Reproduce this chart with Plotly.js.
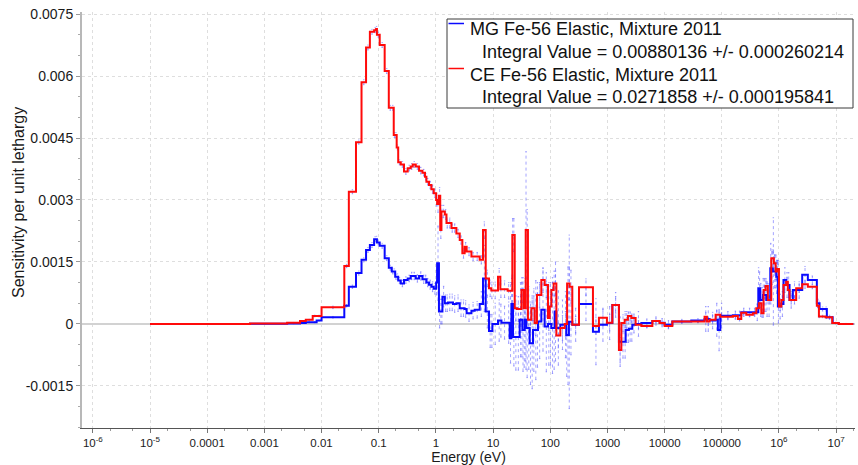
<!DOCTYPE html>
<html>
<head>
<meta charset="utf-8">
<script src="https://cdn.plot.ly/plotly-3.0.1.min.js"></script>
<style>
  html, body { margin: 0; padding: 0; background: #ffffff; }
  #chart { width: 858px; height: 465px; }
</style>
</head>
<body>
<div id="chart"></div>
<script>
// Energy group boundaries (eV), low to high; one more entry than each value list.
const groupEdges = [
  1e-5, 5.6e-4, 2.5e-3, 4.2e-3, 5.3e-3, 7.0e-3, 8.2e-3, 0.01, 0.025, 0.03,
  0.04, 0.05, 0.06, 0.07, 0.083, 0.09, 0.093, 0.104, 0.127, 0.15,
  0.169, 0.183, 0.194, 0.206, 0.219, 0.243, 0.277, 0.321, 0.362, 0.393,
  0.444, 0.507, 0.581, 0.644, 0.682, 0.757, 0.834, 0.916, 1.01, 1.05,
  1.13, 1.19, 1.25, 1.30, 1.43, 1.53, 1.63, 1.87, 1.99, 2.28,
  2.61, 2.90, 3.18, 3.45, 4.18, 4.77, 5.83, 6.66, 7.43, 8.48,
  9.33, 9.72, 12.2, 13.4, 14.0, 18.0, 19.5, 20.9, 21.7, 22.3,
  23.9, 26.2, 29.2, 31.3, 32.5, 34.3, 35.7, 37.2, 38.2, 40.7,
  43.6, 46.7, 49.9, 53.4, 58.5, 61.0, 69.8, 79.8, 91.2, 97.7,
  104.5, 114.6, 119.4, 127.9, 150, 178.6, 191, 197, 212, 218,
  243, 318, 558, 710, 980, 1219, 1589, 1750, 2000, 2080,
  2280, 2377, 2618, 2723, 3112, 3917, 6100, 8180, 10000, 13650,
  29300, 50000, 55000, 61200, 78000, 85500, 94200, 104500, 156300, 191000,
  219000, 268000, 350000, 401000, 435000, 446000, 471000, 491000, 524000, 538000,
  583000, 600000, 640000, 705000, 733000, 782000, 815000, 873000, 897000, 927000,
  957000, 1.0e6, 1.1e6, 1.2e6, 1.34e6, 1.43e6, 1.53e6, 1.75e6, 2.0e6, 2.55e6,
  3.2e6, 4.6e6, 5.0e6, 5.13e6, 6.53e6, 6.88e6, 8.55e6, 8.7e6, 1.11e7, 2.0e7
];

// Multigroup (MG) sensitivity per unit lethargy, one value per group
const mgValues = [
  0, 0.000005, 0.00001, 0.00002, 0.00004, 0.00004, 0.00008, 0.00016, 0.00044, 0.0009,
  0.00123, 0.00155, 0.00179, 0.00191, 0.00205, 0.00205, 0.00197, 0.00189, 0.00159, 0.00136,
  0.00127, 0.00127, 0.00114, 0.00114, 0.00105, 0.00098, 0.00106, 0.0011, 0.00116, 0.00116,
  0.0011, 0.00116, 0.00108, 0.00108, 0.001, 0.00095, 0.0009, 0.00085, 0.0010, 0.00147,
  0.0003, 0.0003, 0.0003, 0.00066, 0.0005, 0.0005, 0.00052, 0.00052, 0.00048, 0.0005,
  0.00038, 0.00038, 0.00036, 0.00026, 0.00032, 0.00034, 0.00048, 0.0011, 0.0003, -0.00017,
  -0.00017, 0, 0.00008, 0.00008, 0.00003, 0.00003, -0.00035, 0.00048, 0.00048, -0.00032,
  -0.00032, -0.00032, 0.0001, 0.0001, -0.00015, -0.00015, 0.0001, 0.0001, -0.0001, -0.0001,
  -0.00047, -0.00047, -0.00015, -0.00015, -0.00015, 0.00006, 0.00034, -0.00006, 0, 0,
  -0.0001, -0.0001, 0.0003, -0.0001, -0.00002, -0.00002, -0.00027, -0.00027, 0.00005, 0.00005,
  -0.00002, 0.00048, -0.00019, -0.00002, 0.00002, 0.00046, -0.00043, -0.00043, -0.00043, -0.00015,
  -0.00015, -0.00012, -0.00012, -0.00002, 0, 0.00002, 0.00007, 0.00003, -0.00002, 0.00006,
  0.00008, 0.00012, 0.00012, 0.00008, 0.0001, -0.00015, 0.0002, 0.0002, 0.00021, 0.00021,
  0.00028, 0.00028, 0.00028, 0.00028, 0.00086, 0.00086, 0.00058, 0.00058, 0.0007, 0.0007,
  0.0007, 0.00058, 0.00058, 0.00135, 0.00135, 0.00127, 0.00127, 0.00127, 0.00114, 0.00114,
  0.00042, 0.00042, 0.00048, 0.00106, 0.00094, 0.00094, 0.00058, 0.00082, 0.00082, 0.00119,
  0.00106, 0.0005, 0.0005, 0.00036, 0.00036, 0.00016, 0.00016, 0.00002, 0
];

// Continuous-energy (CE) sensitivity per unit lethargy, same groups
const ceValues = [
  0, 0.00001, 0.00003, 0.00007, 0.0001, 0.00019, 0.00019, 0.0004, 0.0014, 0.0032,
  0.0044, 0.00585, 0.00669, 0.00707, 0.00711, 0.00714, 0.0070, 0.00675, 0.00612, 0.00523,
  0.00523, 0.00457, 0.00457, 0.00427, 0.00391, 0.00386, 0.00369, 0.00377, 0.00381, 0.00386,
  0.00381, 0.00371, 0.00366, 0.00356, 0.00344, 0.00336, 0.00326, 0.00316, 0.0030, 0.0029,
  0.0031, 0.00227, 0.00272, 0.00272, 0.00265, 0.00244, 0.00244, 0.00232, 0.00232, 0.00219,
  0.00203, 0.00171, 0.00187, 0.00175, 0.00163, 0.00163, 0.00155, 0.00227, 0.0011, 0.00086,
  0.00081, 0.00081, 0.00114, 0.00084, 0.00084, 0.0008, 0.0008, 0.0008, 0.00215, 0.00215,
  0.00038, 0.00036, 0.00036, 0.00082, 0.00082, 0.00038, 0.00038, 0.00227, 0.00227, 0.0001,
  0.0001, 0.00038, 0.00038, 0.00002, 0.0007, 0.0007, 0.00106, 0.00094, 0.00014, 0.00042,
  0.00082, 0.00098, 0.00098, -0.00028, -0.0001, 0, 0, 0.00098, 0.00098, 0.0009,
  -0.00002, 0.00089, -0.00005, 0.00015, 0.00003, 0.00046, -0.00063, 0.00002, 0.0001, 0.0001,
  0.00019, 0.00019, 0.00014, 0.00014, -0.00002, -0.00005, 0.00007, 0.00002, -0.00005, 0.00006,
  0.00006, 0.00017, 0.00006, 0.0001, 0.00022, 0.00022, 0.00017, 0.00017, 0.00019, 0.00012,
  0.00027, 0.00022, 0.00026, 0.00038, 0.00038, 0.0005, 0.0005, 0.00026, 0.00026, 0.00082,
  0.00092, 0.00092, 0.00058, 0.00058, 0.00159, 0.00159, 0.00147, 0.00127, 0.00127, 0.00133,
  0.00133, 0.00042, 0.00058, 0.00094, 0.00102, 0.00082, 0.00058, 0.00058, 0.00086, 0.00096,
  0.0009, 0.00044, 0.00018, 0.00018, 0.00016, 0.00016, 0.00002, 0.00002, 0
];

// One-sigma uncertainties per group
const mgErrors = [
  0, 0, 0.000005, 0.00001, 0.00001, 0.00001, 0.00001, 0.00002, 0.00003, 0.00004,
  0.00005, 0.00005, 0.00006, 0.00006, 0.00006, 0.00007, 0.00006, 0.00006, 0.00006, 0.00006,
  0.00006, 0.00006, 0.00006, 0.00007, 0.00007, 0.00008, 0.00008, 0.00008, 0.00009, 0.00009,
  0.00009, 0.0001, 0.0001, 0.0001, 0.0001, 0.00011, 0.00012, 0.00013, 0.0003, 0.0009,
  0.0004, 0.0003, 0.0003, 0.00025, 0.0002, 0.0002, 0.0002, 0.0002, 0.0002, 0.0002,
  0.0002, 0.0002, 0.0002, 0.0002, 0.0002, 0.0002, 0.0003, 0.0008, 0.0004, 0.0004,
  0.0004, 0.0005, 0.0005, 0.0004, 0.0004, 0.0005, 0.0006, 0.0007, 0.0007, 0.0007,
  0.0008, 0.0008, 0.0009, 0.0009, 0.001, 0.0009, 0.001, 0.0012, 0.0012, 0.001,
  0.001, 0.0011, 0.001, 0.0012, 0.0009, 0.0009, 0.001, 0.0011, 0.001, 0.001,
  0.0011, 0.001, 0.0012, 0.0009, 0.0006, 0.0008, 0.001, 0.0012, 0.0021, 0.0008,
  0.0004, 0.0004, 0.0008, 0.0004, 0.0004, 0.0003, 0.0006, 0.0004, 0.0004, 0.0003,
  0.0003, 0.0003, 0.0003, 0.0002, 0.0003, 0.0001, 0.0001, 0.0001, 0.0001, 0.00005,
  0.00005, 0.0003, 0.0003, 0.0002, 0.0004, 0.0005, 0.0003, 0.0001, 0.0001, 0.0001,
  0.0001, 0.0001, 0.0001, 0.0002, 0.0005, 0.0004, 0.0004, 0.0003, 0.0004, 0.0004,
  0.0004, 0.0004, 0.0004, 0.0006, 0.0004, 0.0013, 0.0004, 0.0004, 0.0004, 0.0004,
  0.0004, 0.0003, 0.0003, 0.0003, 0.0003, 0.0003, 0.0002, 0.0002, 0.0002, 0.0002,
  0.0001, 0.0001, 0.00005, 0.00005, 0.00005, 0.00005, 0.00002, 0.00002, 0.00001
];

const ceErrors = [
  0, 0, 0.000005, 0.00001, 0.00001, 0.00002, 0.00002, 0.00003, 0.00004, 0.00005,
  0.00005, 0.00006, 0.00006, 0.00006, 0.00006, 0.00006, 0.00006, 0.00006, 0.00006, 0.00006,
  0.00006, 0.00006, 0.00006, 0.00006, 0.00006, 0.00007, 0.00007, 0.00007, 0.00007, 0.00007,
  0.00007, 0.00008, 0.00008, 0.00008, 0.00008, 0.00009, 0.0001, 0.0001, 0.00015, 0.0002,
  0.0002, 0.0002, 0.00015, 0.00015, 0.00012, 0.00012, 0.00012, 0.0001, 0.0001, 0.0001,
  0.0001, 0.00012, 0.0001, 0.0001, 0.0001, 0.0001, 0.0001, 0.0002, 0.0002, 0.0002,
  0.0002, 0.0002, 0.0002, 0.0002, 0.0002, 0.0002, 0.0002, 0.0003, 0.0004, 0.0004,
  0.0003, 0.0003, 0.0003, 0.0003, 0.0003, 0.0003, 0.0003, 0.0019, 0.0005, 0.0003,
  0.0003, 0.0003, 0.0003, 0.0003, 0.0003, 0.0003, 0.0003, 0.0003, 0.0003, 0.0003,
  0.0003, 0.0003, 0.0003, 0.0003, 0.0003, 0.0003, 0.0003, 0.0004, 0.0004, 0.0004,
  0.0002, 0.0002, 0.0002, 0.0002, 0.0002, 0.0002, 0.0003, 0.0002, 0.0002, 0.0002,
  0.0001, 0.0001, 0.0001, 0.0001, 0.0001, 0.00005, 0.00005, 0.00005, 0.00005, 0.00003,
  0.00003, 0.0001, 0.0001, 0.0001, 0.0001, 0.0001, 0.0001, 0.00005, 0.00005, 0.00005,
  0.00005, 0.00005, 0.00005, 0.0001, 0.0001, 0.0001, 0.0001, 0.0001, 0.0001, 0.0001,
  0.0001, 0.0001, 0.0001, 0.0001, 0.0002, 0.0002, 0.0002, 0.0002, 0.0002, 0.0002,
  0.0002, 0.0001, 0.0001, 0.0001, 0.0001, 0.0001, 0.0001, 0.0001, 0.0001, 0.0001,
  0.00005, 0.00005, 0.00003, 0.00003, 0.00003, 0.00003, 0.00001, 0.00001, 0.00001
];

const seriesLabels = ['MG Fe-56 Elastic, Mixture 2011', 'CE Fe-56 Elastic, Mixture 2011'];
const integralLabels = ['Integral Value = 0.00880136 +/- 0.000260214',
                        'Integral Value = 0.0271858 +/- 0.000195841'];
const seriesColors = ['#0a0aff', '#ff0a0a'];

const xTickValues = [1e-6, 1e-5, 1e-4, 1e-3, 1e-2, 1e-1, 1, 10, 100, 1000, 1e4, 1e5, 1e6, 1e7];
const xTickLabels = ['10<sup>-6</sup>', '10<sup>-5</sup>', '0.0001', '0.001', '0.01', '0.1', '1',
                     '10', '100', '1000', '10000', '100000', '10<sup>6</sup>', '10<sup>7</sup>'];
const yTickValues = [-0.0015, 0, 0.0015, 0.003, 0.0045, 0.006, 0.0075];
const yTickLabels = ['-0.0015', '0', '0.0015', '0.003', '0.0045', '0.006', '0.0075'];

// Page geometry: figure size and plot-area margins in pixels
const W = 858, H = 465;
const M = { l: 82, r: 3, t: 12, b: 37 };
const plotW = W - M.l - M.r, plotH = H - M.t - M.b;
const paperX = px => (px - M.l) / plotW;
const paperY = py => 1 - (py - M.t) / plotH;

// Histogram outline: each group value held flat across its energy range
function stepLine(edges, values) {
  return { x: edges.slice(), y: values.concat([values[values.length - 1]]) };
}

// Dotted error bars at the logarithmic centre of each group, with short caps
function errorBars(edges, values, errors) {
  const x = [], y = [];
  const capFactor = Math.pow(10, 0.012);
  for (let i = 0; i < values.length; i++) {
    if (!(errors[i] > 0)) continue;
    const c = Math.sqrt(edges[i] * edges[i + 1]);
    const lo = values[i] - errors[i];
    const hi = values[i] + errors[i];
    x.push(c, c, null, c / capFactor, c * capFactor, null, c / capFactor, c * capFactor, null);
    y.push(lo, hi, null, hi, hi, null, lo, lo, null);
  }
  return { x, y };
}

const errColor = 'rgba(90, 90, 255, 0.55)';
const mgErr = errorBars(groupEdges, mgValues, mgErrors);
const ceErr = errorBars(groupEdges, ceValues, ceErrors);
const mgStep = stepLine(groupEdges, mgValues);
const ceStep = stepLine(groupEdges, ceValues);

const traces = [
  { x: mgErr.x, y: mgErr.y, mode: 'lines', hoverinfo: 'skip',
    line: { color: errColor, width: 1, dash: 'dot' } },
  { x: ceErr.x, y: ceErr.y, mode: 'lines', hoverinfo: 'skip',
    line: { color: errColor, width: 1, dash: 'dot' } },
  { x: mgStep.x, y: mgStep.y, mode: 'lines', name: seriesLabels[0],
    line: { color: seriesColors[0], width: 2, shape: 'hv' } },
  { x: ceStep.x, y: ceStep.y, mode: 'lines', name: seriesLabels[1],
    line: { color: seriesColors[1], width: 2, shape: 'hv' } }
];

const font = 'Liberation Sans, Arial, sans-serif';

// Boxed key in the upper right: short colour line, series name, indented integral
const keyBox = { left: 447, right: 853, top: 19, bottom: 108 };
const keyRowMid = [29, 51.5, 75, 97];
const keySwatchY = [23.5, 68.5];
const keyShapes = [{
  type: 'rect', xref: 'paper', yref: 'paper', layer: 'above',
  x0: paperX(keyBox.left), x1: paperX(keyBox.right),
  y0: paperY(keyBox.bottom), y1: paperY(keyBox.top),
  line: { color: '#3a3a3a', width: 1 }, fillcolor: '#ffffff'
}];
const keyNotes = [];
seriesLabels.forEach((label, i) => {
  keyShapes.push({
    type: 'line', xref: 'paper', yref: 'paper', layer: 'above',
    x0: paperX(448.5), x1: paperX(464), y0: paperY(keySwatchY[i]), y1: paperY(keySwatchY[i]),
    line: { color: seriesColors[i], width: 1.5 }
  });
  keyNotes.push({
    text: label, xref: 'paper', yref: 'paper', showarrow: false,
    x: paperX(469), y: paperY(keyRowMid[2 * i]), xanchor: 'left', yanchor: 'middle',
    borderpad: 0, font: { family: font, size: 18, color: '#111111' }
  });
  keyNotes.push({
    text: integralLabels[i], xref: 'paper', yref: 'paper', showarrow: false,
    x: paperX(481), y: paperY(keyRowMid[2 * i + 1]), xanchor: 'left', yanchor: 'middle',
    borderpad: 0, font: { family: font, size: 18, color: '#111111' }
  });
});

// Vertical axis title, set slightly above the plot's midpoint
keyNotes.push({
  text: 'Sensitivity per unit lethargy', xref: 'paper', yref: 'paper', showarrow: false,
  x: paperX(18), y: paperY(203), xanchor: 'center', yanchor: 'middle', textangle: -90,
  font: { family: font, size: 16, color: '#1a1a1a' }
});

const layout = {
  width: W,
  height: H,
  margin: M,
  paper_bgcolor: '#ffffff',
  plot_bgcolor: '#ffffff',
  font: { family: font, color: '#1a1a1a' },
  showlegend: false,
  shapes: keyShapes,
  annotations: keyNotes,
  xaxis: {
    type: 'log',
    range: [-6.19, 7.33],
    tickmode: 'array', tickvals: xTickValues, ticktext: xTickLabels,
    tickfont: { size: 11.5, color: '#1a1a1a' },
    ticks: 'outside', ticklen: 4, tickcolor: '#777777',
    minor: { ticks: 'outside', ticklen: 2, tickcolor: '#999999', dtick: 'D2', showgrid: false },
    showline: true, linecolor: '#555555', linewidth: 1,
    showgrid: true, gridcolor: '#dedede', griddash: 'dot', gridwidth: 1,
    zeroline: false,
    title: { text: 'Energy (eV)', font: { size: 14, color: '#1a1a1a' }, standoff: 3 }
  },
  yaxis: {
    range: [-0.00252, 0.00755],
    tickmode: 'array', tickvals: yTickValues, ticktext: yTickLabels,
    tickfont: { size: 14, color: '#1a1a1a' },
    ticks: 'outside', ticklen: 4, tickcolor: '#999999',
    minor: { ticks: 'outside', ticklen: 2, tickcolor: '#aaaaaa', dtick: 0.0005, showgrid: false },
    showline: true, linecolor: '#b8b8b8', linewidth: 2,
    showgrid: true, gridcolor: '#dedede', griddash: 'dot', gridwidth: 1,
    zeroline: true, zerolinecolor: '#d2d2d2', zerolinewidth: 1.5
  }
};

Plotly.newPlot('chart', traces, layout, { displayModeBar: false, staticPlot: true });
</script>
</body>
</html>
